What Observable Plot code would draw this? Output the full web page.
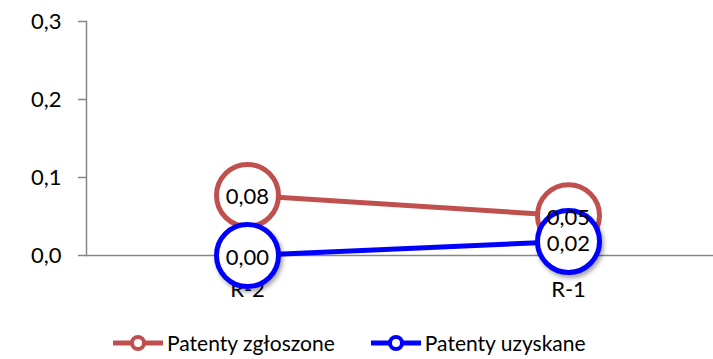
<!DOCTYPE html>
<html><head><meta charset="utf-8">
<script src="https://cdn.jsdelivr.net/npm/d3@7"></script>
<script src="https://cdn.jsdelivr.net/npm/@observablehq/plot@0.6"></script>
<style>
body{margin:0;background:#fff;font-family:Lato,"Open Sans",sans-serif;}
#legend{display:flex;position:absolute;top:331px;left:113px;font-size:21px;color:#000;line-height:24px;}
.item{display:flex;align-items:center;margin-right:36px;}
.item svg{margin-right:4px;}
.shadow{filter:drop-shadow(2px 3px 2px rgba(0,0,0,0.35));}
</style></head>
<body>
<div id="chart"></div>
<div id="legend"></div>
<script>
const categories = ["R-2", "R-1"];
const zgloszone = [0.077, 0.051];
const uzyskane = [0.0, 0.018];
const seriesNames = ["Patenty zgłoszone", "Patenty uzyskane"];
const yTicks = [0, 0.1, 0.2, 0.3];
const colors = ["#C0504D", "#0000FF"];

const fmt = v => v.toFixed(2).replace(".", ",");
const red = categories.map((c, i) => ({c, v: zgloszone[i]}));
const blue = categories.map((c, i) => ({c, v: uzyskane[i]}));

const chart = Plot.plot({
  width: 713, height: 315,
  marginLeft: 86, marginRight: 0, marginTop: 21, marginBottom: 60,
  style: {fontFamily: "Lato, 'Open Sans', sans-serif", fontSize: "22px", color: "#000", background: "#fff"},
  x: {type: "point", domain: categories, range: [86, 728], padding: 0.5},
  y: {domain: [0, 0.3]},
  marks: [
    Plot.frame({anchor: "left", stroke: "#868686", strokeWidth: 1.5}),
    Plot.frame({anchor: "bottom", stroke: "#868686", strokeWidth: 1.5}),
    Plot.axisY({ticks: yTicks, tickFormat: d => d.toFixed(1).replace(".", ","), tickSize: 8, tickPadding: 17, stroke: "#868686", strokeWidth: 1.5, fontSize: 22, fill: "#000", label: null}),
    Plot.axisX({tickSize: 0, tickPadding: 26, fontSize: 22, fill: "#000", label: null}),
    Plot.line(red, {x: "c", y: "v", stroke: colors[0], strokeWidth: 5}),
    Plot.dot(red, {x: "c", y: "v", r: 31, fill: "#fff", stroke: colors[0], strokeWidth: 5}),
    Plot.line(blue, {x: "c", y: "v", stroke: colors[1], strokeWidth: 5}),
    Plot.dot(blue, {x: "c", y: "v", r: 31, fill: "#fff", stroke: colors[1], strokeWidth: 5, className: "shadow"}),
    Plot.text(red, {x: "c", y: "v", text: d => fmt(d.v), fontSize: 22, fill: "#000", dy: 2}),
    Plot.text(blue, {x: "c", y: "v", text: d => fmt(d.v), fontSize: 22, fill: "#000", dy: 2})
  ]
});
document.getElementById("chart").appendChild(chart);

const leg = document.getElementById("legend");
seriesNames.forEach((n, i) => {
  const el = document.createElement("div");
  el.className = "item";
  el.innerHTML = `<svg width="50" height="20"><line x1="0" y1="10" x2="50" y2="10" stroke="${colors[i]}" stroke-width="5"/><circle cx="25" cy="10" r="6" fill="#fff" stroke="${colors[i]}" stroke-width="4"/></svg><span>${n}</span>`;
  leg.appendChild(el);
});
</script>
</body></html>
